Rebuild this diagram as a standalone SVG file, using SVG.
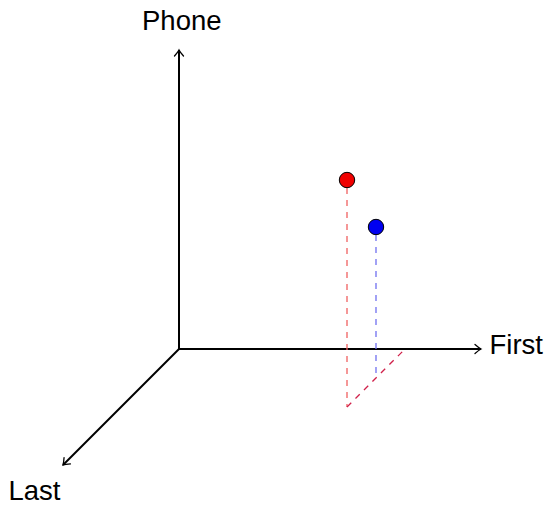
<svg xmlns="http://www.w3.org/2000/svg" width="549" height="505" viewBox="0 0 549 505">
<defs>
<marker id="arr" viewBox="-8 -6 10 12" markerWidth="10" markerHeight="12" refX="0" refY="0" orient="auto" markerUnits="userSpaceOnUse">
<path d="M-6,-4.5 Q-2,-1 0,0 Q-2,1 -6,4.5" fill="none" stroke="#000" stroke-width="1.3" stroke-linecap="round"/>
</marker>
</defs>
<style>
.axis{stroke:#000;stroke-width:2;fill:none}
.lbl{font-family:"Liberation Sans",Arial,sans-serif;font-size:27.5px;fill:#000}
.dash{stroke-width:1.3;stroke-dasharray:6,6;fill:none}
</style>
<g id="connectors">
<line class="axis" x1="179" y1="349" x2="179" y2="50" marker-end="url(#arr)"/>
<line class="axis" x1="179" y1="349" x2="481" y2="349" marker-end="url(#arr)"/>
<line class="axis" x1="179" y1="349" x2="63" y2="465" marker-end="url(#arr)"/>
<line class="dash" stroke="#f06060" x1="347" y1="188" x2="347" y2="407"/>
<line class="dash" stroke="#7070f0" x1="376" y1="235" x2="376" y2="378"/>
<line class="dash" stroke="#d0204a" x1="347" y1="407" x2="405" y2="349"/>
</g>
<g id="label-phone"><text class="lbl" x="142" y="30">Phone</text></g>
<g id="label-first"><text class="lbl" x="489.5" y="354">First</text></g>
<g id="label-last"><text class="lbl" x="8.5" y="500">Last</text></g>
<g id="point-red"><circle cx="347" cy="180" r="7.7" fill="#f00000" stroke="#000" stroke-width="1"/></g>
<g id="point-blue"><circle cx="376" cy="227" r="7.7" fill="#0000f0" stroke="#000" stroke-width="1"/></g>
</svg>
